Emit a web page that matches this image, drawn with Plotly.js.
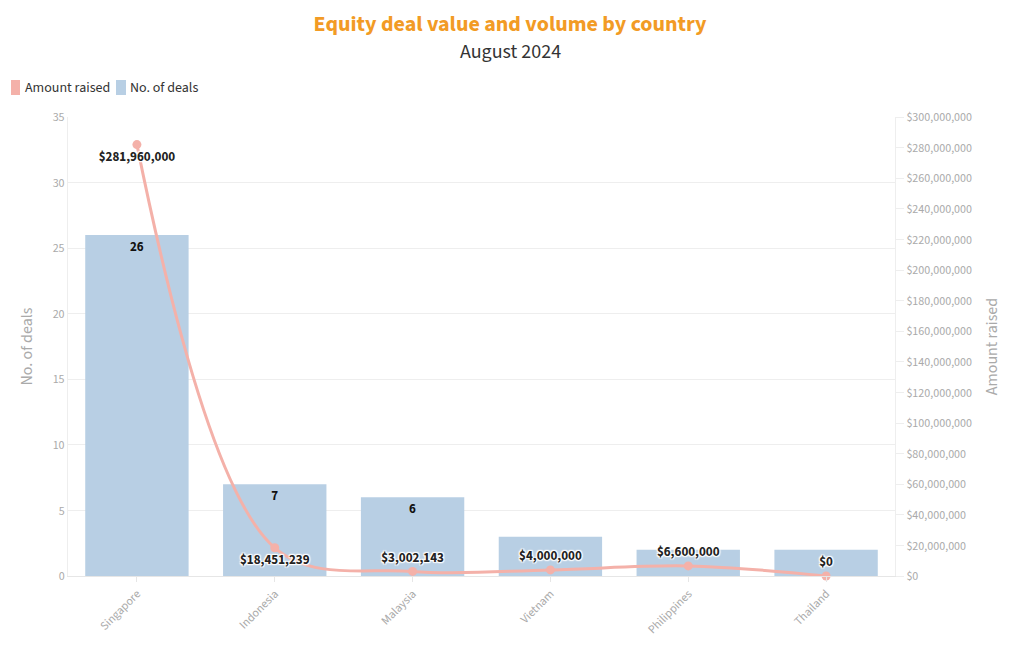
<!DOCTYPE html>
<html>
<head>
<meta charset="utf-8">
<script src="https://cdn.plot.ly/plotly-3.0.1.min.js"></script>
<style>html,body{margin:0;padding:0;background:#fff;}#chart{width:1020px;height:650px;}</style>
</head>
<body>
<div id="chart"></div>
<script>
const countries = ['Singapore', 'Indonesia', 'Malaysia', 'Vietnam', 'Philippines', 'Thailand'];
const dealCounts = [26, 7, 6, 3, 2, 2];
const amountRaised = [281960000, 18451239, 3002143, 4000000, 6600000, 0];
const shownDealLabels = [true, true, true, false, false, false];
const amountLabelPos = ['bottom center', 'bottom center', 'top center', 'top center', 'top center', 'top center'];
const legendNames = ['Amount raised', 'No. of deals'];

const FONT = '"Source Sans Pro", "Source Sans 3", Lato, sans-serif';
const PINK = '#f4b1a9', BLUE = '#b8cfe4';
const fmt = v => '$' + v.toLocaleString('en-US');
const halo = '1px 1px 1px #fff, -1px -1px 1px #fff, 1px -1px 1px #fff, -1px 1px 1px #fff, 0 0 3px #fff';

// plot area in pixels: x 68..895, y 117..576
const L = 68, R = 125, T = 117, B = 74, PW = 1020 - L - R, PH = 650 - T - B;
const px = x => (x - L) / PW;
const py = y => (650 - B - y) / PH;

const traces = [
  {
    type: 'bar', name: legendNames[1], x: countries, y: dealCounts, yaxis: 'y',
    marker: {color: BLUE}, width: 0.75,
    text: dealCounts.map((v, i) => shownDealLabels[i] ? String(v) : ''),
    textposition: 'inside', insidetextanchor: 'end',
    textfont: {family: FONT, size: 13, color: '#111', weight: 'bold'},
    cliponaxis: false, showlegend: false, hoverinfo: 'x+y'
  },
  {
    type: 'scatter', mode: 'lines+markers+text', name: legendNames[0],
    x: countries, y: amountRaised, yaxis: 'y2',
    line: {color: PINK, width: 3, shape: 'spline', smoothing: 1},
    marker: {color: PINK, size: 9},
    text: amountRaised.map(fmt), textposition: amountLabelPos,
    textfont: {family: FONT, size: 13, color: '#222', weight: 'bold', shadow: halo},
    cliponaxis: false, showlegend: false
  }
];

const legendShapes = [
  {type: 'rect', xref: 'paper', yref: 'paper', xsizemode: 'pixel', ysizemode: 'pixel',
   xanchor: 0, yanchor: 1, x0: 11 - L, x1: 20 - L, y0: T - 95, y1: T - 80,
   fillcolor: PINK, line: {width: 0}},
  {type: 'rect', xref: 'paper', yref: 'paper', xsizemode: 'pixel', ysizemode: 'pixel',
   xanchor: 0, yanchor: 1, x0: 116 - L, x1: 126 - L, y0: T - 95, y1: T - 80,
   fillcolor: BLUE, line: {width: 0}}
];

const annotations = [
  {text: legendNames[0], xref: 'paper', yref: 'paper', x: px(23), y: py(87.5), xanchor: 'left', yanchor: 'middle',
   showarrow: false, font: {family: FONT, size: 14, color: '#333'}},
  {text: legendNames[1], xref: 'paper', yref: 'paper', x: px(128), y: py(87.5), xanchor: 'left', yanchor: 'middle',
   showarrow: false, font: {family: FONT, size: 14, color: '#333'}},
  {text: 'August 2024', xref: 'paper', yref: 'paper', x: px(510), y: py(52), xanchor: 'center', yanchor: 'middle',
   showarrow: false, font: {family: FONT, size: 20, color: '#333'}}
];

const layout = {
  width: 1020, height: 650,
  margin: {l: L, r: R, t: T, b: B},
  paper_bgcolor: '#fff', plot_bgcolor: '#fff',
  font: {family: FONT, color: '#aaa', size: 12},
  title: {
    text: '<b>Equity deal value and volume by country</b>',
    xref: 'container', yref: 'container',
    x: 0.5, xanchor: 'center', y: 1 - 23 / 650, yanchor: 'middle',
    font: {family: FONT, size: 22, color: '#f29b25'}
  },
  showlegend: false,
  shapes: legendShapes,
  annotations: annotations,
  xaxis: {
    type: 'category', tickangle: -45, ticks: 'outside', ticklen: 5, tickcolor: '#e6e6e6',
    showline: true, linecolor: '#e6e6e6', showgrid: false,
    tickfont: {family: FONT, size: 12, color: '#aaa'}
  },
  yaxis: {
    range: [0, 35], dtick: 5, showgrid: true, gridcolor: '#eeeeee', zeroline: false,
    showline: true, linecolor: '#eeeeee',
    title: {text: 'No. of deals', font: {family: FONT, size: 16, color: '#aaa'}, standoff: 16},
    tickfont: {family: FONT, size: 12, color: '#aaa'}
  },
  yaxis2: {
    overlaying: 'y', side: 'right', range: [0, 300000000], dtick: 20000000,
    tickprefix: '$', tickformat: ',d', showgrid: false, zeroline: false,
    showline: true, linecolor: '#eeeeee', ticks: 'outside', ticklen: 8, tickcolor: '#eeeeee',
    title: {text: 'Amount raised', font: {family: FONT, size: 16, color: '#aaa'}, standoff: 14},
    tickfont: {family: FONT, size: 12, color: '#aaa'}
  }
};

Plotly.newPlot('chart', traces, layout, {displayModeBar: false, responsive: false});
</script>
</body>
</html>
